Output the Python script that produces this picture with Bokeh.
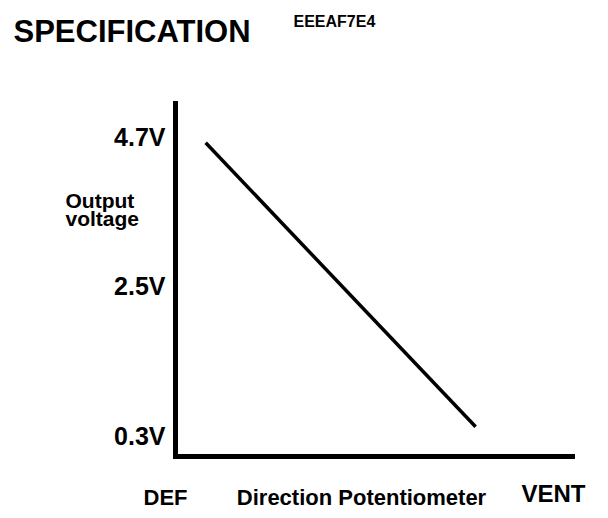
from bokeh.plotting import figure
from bokeh.models import FixedTicker, LinearAxis, Range1d
from bokeh.core.properties import value
from bokeh.embed import file_html
from bokeh.resources import INLINE

# --- data ---
position = [0.076, 0.756]          # fraction of travel DEF -> VENT
output_v = [4.61, 0.43]            # output voltage (V)
y_ticks = [0.3, 2.5, 4.7]
y_tick_labels = ["0.3V", "2.5V", "4.7V"]
title_text = "SPECIFICATION"
code_text = "EEEAF7E4"
y_label_lines = ["Output", "voltage"]
x_label_texts = ["DEF", "Direction Potentiometer", "VENT"]

FONT = "Arial"
AXIS_FONT = "Arial, Helvetica, sans-serif"
W, H = 600, 510
# axis box on the page: x 175..572 (position 0..1), volts: 2.5 V at y 285.67, 67.95 px per volt
X0, XW = 175.0, 397.0
YMID, PPV = 285.67, 67.95

def dx(px):
    return (px - X0) / XW

def dy(py):
    return 2.5 + (YMID - py) / PPV

p = figure(width=W, height=H, output_backend="svg", toolbar_location=None,
           x_range=Range1d(dx(0), dx(W)), y_range=Range1d(dy(H), dy(0)),
           x_axis_location=None, y_axis_location=None,
           min_border=0, min_border_left=0, min_border_right=0,
           min_border_top=0, min_border_bottom=0)
p.outline_line_color = None
p.grid.visible = False
p.background_fill_color = "white"
p.border_fill_color = "white"

p.line(position, output_v, line_color="black", line_width=3.5)

ya = LinearAxis(fixed_location=0, bounds=(0.0, 5.19), ticker=FixedTicker(ticks=y_ticks))
ya.major_label_overrides = {t: l for t, l in zip(y_ticks, y_tick_labels)}
ya.axis_line_width = 5
ya.axis_line_cap = "square"
ya.major_tick_line_color = None
ya.minor_tick_line_color = None
ya.major_tick_out = 0
ya.major_tick_in = 0
ya.major_label_standoff = 10
ya.major_label_text_font = AXIS_FONT
ya.major_label_text_font_style = "bold"
ya.major_label_text_font_size = "25px"
ya.major_label_text_color = "black"
p.add_layout(ya, "left")

xa = LinearAxis(fixed_location=0.0, bounds=(0.0, 1.0), ticker=FixedTicker(ticks=[]))
xa.axis_line_width = 5
xa.axis_line_cap = "square"
xa.major_tick_line_color = None
xa.minor_tick_line_color = None
xa.major_label_text_font_size = "0px"
p.add_layout(xa, "below")

def lab(text, px, py, size, align="left"):
    p.text(x=[dx(px)], y=[dy(py)], text=[text], text_font=value(FONT),
           text_font_style="bold", text_font_size=value(size),
           text_align=align, text_baseline="alphabetic", text_color="black")

lab(title_text, 13, 31, "31px")
lab(code_text, 293, 21, "16px")
lab(y_label_lines[0], 65, 200, "21px")
lab(y_label_lines[1], 65, 218, "21px")
lab(x_label_texts[0], 165, 497, "22px", align="center")
lab(x_label_texts[1], 361, 497, "22px", align="center")
lab(x_label_texts[2], 553, 493, "24px", align="center")

open("out.html", "w").write(file_html(p, INLINE))
